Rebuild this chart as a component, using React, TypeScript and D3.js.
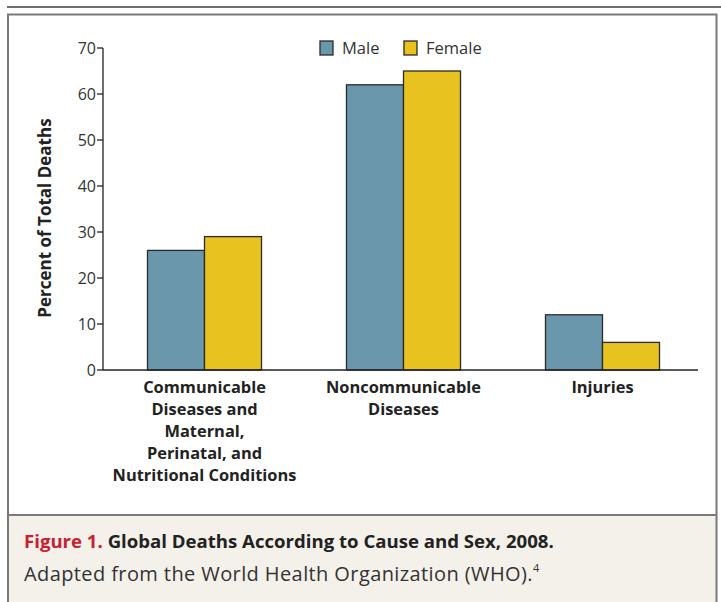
import * as d3 from 'd3'
import React from 'react'

const categories = [
  ['Communicable', 'Diseases and', 'Maternal,', 'Perinatal, and', 'Nutritional Conditions'],
  ['Noncommunicable', 'Diseases'],
  ['Injuries'],
]
const series = ['Male', 'Female']
const male = [26, 62, 12]
const female = [29, 65, 6]
const yTicks = [0, 10, 20, 30, 40, 50, 60, 70]

const colors: Record<string, string> = { Male: '#6a97ab', Female: '#e8c31f' }
const font = "'Open Sans', 'DejaVu Sans', sans-serif"

export default function App() {
  const
    W = 721,
    H = 602,
    x0 = 103,
    yBase = 370,
    keys = categories.map((_, i) => String(i)),
    x = d3.scaleBand().domain(keys).range([105, 702]).paddingInner(0.427).paddingOuter(0.2135),
    xs = d3.scaleBand().domain(series).range([0, x.bandwidth()]),
    y = d3.scaleLinear().domain([0, 70]).range([yBase, 48]),
    values: Record<string, number[]> = { Male: male, Female: female }

  return (
    <svg width={W} height={H} style={{ display: 'block', position: 'absolute', left: 0, top: 0 }}>
      <rect x={0} y={0} width={W} height={H} fill='#fff' />
      <line x1={7} x2={W} y1={7} y2={7} stroke='#6e6e6e' strokeWidth={2} />
      <rect x={7} y={515} width={710} height={H - 515} fill='#f4f1ea' />
      <path d={`M8,${H}V14.5H716.5V${H}`} fill='none' stroke='#7a7a7a' strokeWidth={2} />
      <line x1={7} x2={717} y1={515} y2={515} stroke='#7a7a7a' strokeWidth={2} />

      {/* bars */}
      {keys.map((k, i) => (
        <g key={k} transform={`translate(${x(k)},0)`}>
          {series.map(s => (
            <rect key={s} x={xs(s)} y={y(values[s][i])} width={xs.bandwidth()} height={yBase - y(values[s][i])}
              fill={colors[s]} stroke='#2a2a2a' strokeWidth={1.3} />
          ))}
        </g>
      ))}

      {/* axes */}
      <line x1={x0} x2={698} y1={yBase} y2={yBase} stroke='#222' strokeWidth={1.3} />
      <line x1={x0} x2={x0} y1={48} y2={yBase} stroke='#222' strokeWidth={1.3} />
      {yTicks.map(t => (
        <g key={t} transform={`translate(0,${y(t)})`}>
          <line x1={x0 - 6} x2={x0} stroke='#222' strokeWidth={1.3} />
          <text x={x0 - 7} dy='0.35em' textAnchor='end' fontFamily={font} fontSize={16} fill='#333'>{t}</text>
        </g>
      ))}
      <text transform={`translate(51,218) rotate(-90)`} textAnchor='middle'
        fontFamily={font} fontSize={17} fontWeight='bold' fill='#222'>Percent of Total Deaths</text>

      {keys.map((k, i) => (
        <text key={k} textAnchor='middle' fontFamily={font} fontSize={16.4} fontWeight='bold' fill='#222'>
          {categories[i].map((line, j) => (
            <tspan key={j} x={x(k)! + x.bandwidth() / 2} y={392.5 + j * 22}>{line}</tspan>
          ))}
        </text>
      ))}

      {/* legend */}
      {series.map((s, i) => (
        <g key={s} transform={`translate(${320 + i * 84},41)`}>
          <rect x={0} y={0} width={13} height={14} fill={colors[s]} stroke='#2a2a2a' strokeWidth={1.3} />
          <text x={22} y={13} fontFamily={font} fontSize={16.5} fill='#333'>{s}</text>
        </g>
      ))}

      {/* caption */}
      <text x={24} y={548} fontFamily={font} fontSize={18.6} fontWeight='bold' fill='#222'>
        <tspan fill='#c8202f'>Figure 1.</tspan> Global Deaths According to Cause and Sex, 2008.
      </text>
      <text x={24} y={581} fontFamily={font} fontSize={20} letterSpacing={0.4} fill='#333'>
        Adapted from the World Health Organization (WHO).<tspan fontSize={11} dy={-9}>4</tspan>
      </text>
    </svg>
  )
}
